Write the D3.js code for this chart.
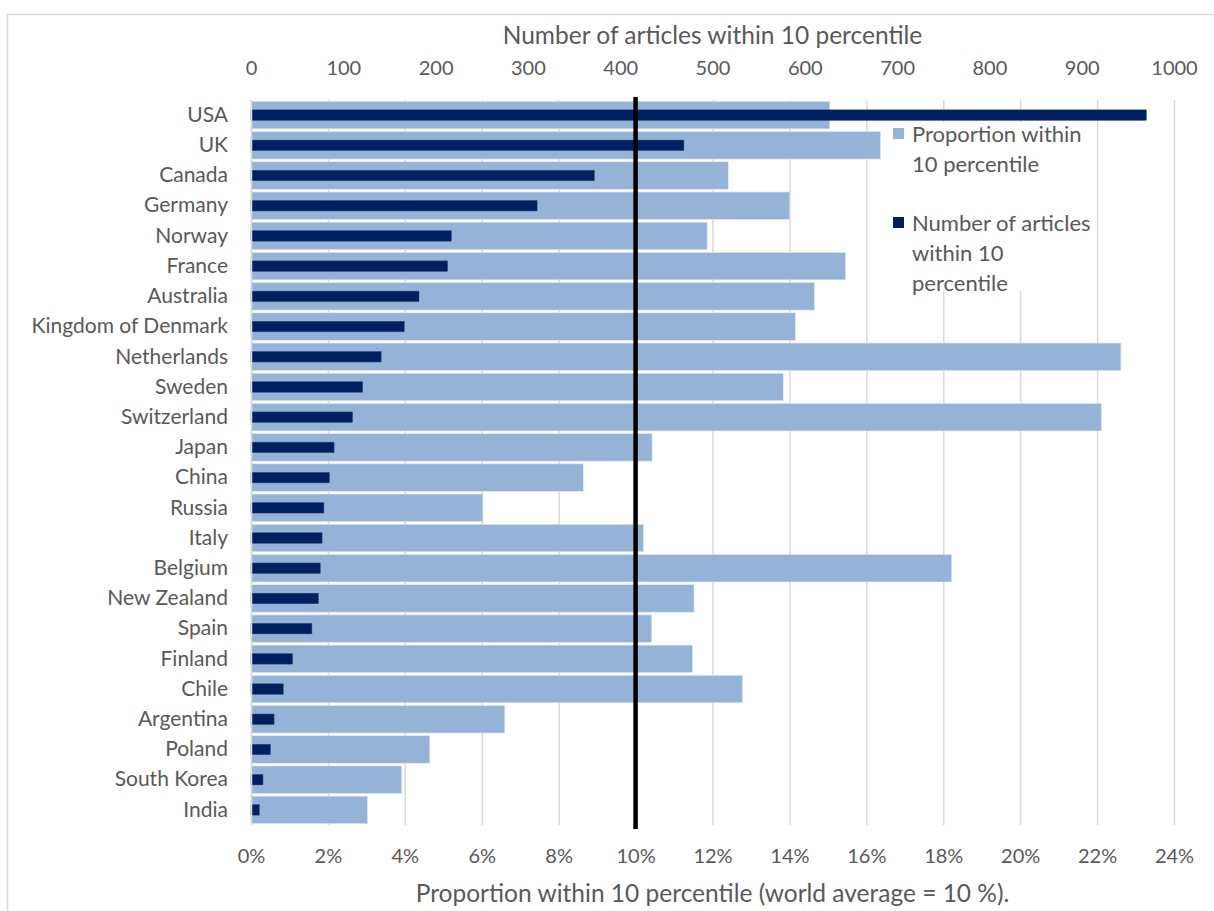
<!DOCTYPE html>
<html><head><meta charset="utf-8">
<script src="https://cdn.jsdelivr.net/npm/d3@7"></script>
<style>
body{margin:0;background:#fff;}
svg text{font-family:Lato, "Open Sans", sans-serif;fill:#595959;}
</style></head>
<body><svg id="c" width="1214" height="911"></svg>
<script>
const countries = ["USA","UK","Canada","Germany","Norway","France","Australia","Kingdom of Denmark","Netherlands","Sweden","Switzerland","Japan","China","Russia","Italy","Belgium","New Zealand","Spain","Finland","Chile","Argentina","Poland","South Korea","India"];
const proportion = [0.1505,0.1637,0.1241,0.1401,0.1186,0.1546,0.1465,0.1416,0.2262,0.1384,0.2211,0.1043,0.0864,0.0603,0.1021,0.1822,0.1152,0.1042,0.1148,0.1278,0.0660,0.0465,0.0392,0.0303];
const articles = [970,469,372,310,217,213,182,166,141,121,110,90,85,79,77,75,73,66,45,35,25,21,13,9];
const topTicks = [0,100,200,300,400,500,600,700,800,900,1000];
const bottomTicks = [0,0.02,0.04,0.06,0.08,0.10,0.12,0.14,0.16,0.18,0.20,0.22,0.24];
const worldAverage = 0.10;
const colors = {light:"#95B3D7", dark:"#002060", grid:"#D9D9D9", text:"#595959"};

const svg = d3.select("#c");
const L = 251, R = 1174, T = 100, B = 825;
const xP = d3.scaleLinear().domain([0,0.24]).range([L,R]);
const xN = d3.scaleLinear().domain([0,1000]).range([L,R]);
const y = d3.scaleBand().domain(countries).range([T,B]).paddingInner(0.09).paddingOuter(0.045);

// outer border
svg.append("rect").attr("x",7.5).attr("y",14.5).attr("width",1214).attr("height",910)
  .attr("fill","none").attr("stroke",colors.grid).attr("stroke-width",1.5);

// gridlines
const grid = svg.append("g").attr("transform",`translate(0,${B})`)
  .call(d3.axisBottom(xP).tickValues(bottomTicks).tickSize(-(B-T)).tickFormat(""));
grid.select(".domain").remove();
grid.selectAll("line").attr("stroke",colors.grid).attr("stroke-width",1.5);

// light bars
svg.append("g").selectAll("rect").data(countries).join("rect")
  .attr("x",L).attr("y",d=>y(d))
  .attr("width",(d,i)=>xP(proportion[i])-L).attr("height",y.bandwidth())
  .attr("fill",colors.light).attr("stroke","#dfe8f3").attr("stroke-width",0.6);

// dark bars
const dh = 10.5;
svg.append("g").selectAll("rect").data(countries).join("rect")
  .attr("x",L).attr("y",d=>y(d)+y.bandwidth()/2-dh/2)
  .attr("width",(d,i)=>xN(articles[i])-L).attr("height",dh)
  .attr("fill",colors.dark).attr("stroke","#2f4a80").attr("stroke-width",0.5);

// legend box
const lg = svg.append("g");
lg.append("rect").attr("x",885).attr("y",122).attr("width",210).attr("height",169).attr("fill","#fff");
const legendItems = [
  {lines:["Proportion within","10 percentile"], color:colors.light, y:134},
  {lines:["Number of articles","within 10","percentile"], color:colors.dark, y:223}
];
legendItems.forEach(it=>{
  lg.append("rect").attr("x",893).attr("y",it.y-6).attr("width",11).attr("height",11).attr("fill",it.color);
  it.lines.forEach((t,k)=>{
    lg.append("text").attr("x",912).attr("y",it.y+k*30).attr("dy","0.35em")
      .style("font-size","22px").text(t);
  });
});

// world average line
svg.append("line").attr("x1",xP(worldAverage)).attr("x2",xP(worldAverage))
  .attr("y1",97).attr("y2",829).attr("stroke","#000").attr("stroke-width",4.5);

// top axis
const ta = svg.append("g").attr("transform","translate(0,68)")
  .call(d3.axisTop(xN).tickValues(topTicks).tickSize(0).tickPadding(0).tickFormat(d3.format("d")));
ta.select(".domain").remove();
ta.selectAll("text").attr("dy","0.35em").style("font-size","20px").attr("fill",colors.text);

// bottom axis
const ba = svg.append("g").attr("transform","translate(0,856)")
  .call(d3.axisBottom(xP).tickValues(bottomTicks).tickSize(0).tickPadding(0).tickFormat(d3.format(".0%")));
ba.select(".domain").remove();
ba.selectAll("text").attr("dy","0.35em").style("font-size","20px").attr("fill",colors.text);

// left axis
const la = svg.append("g").attr("transform",`translate(${L},0)`)
  .call(d3.axisLeft(y).tickSize(0).tickPadding(23));
la.select(".domain").attr("stroke",colors.grid).attr("stroke-width",1.5);
la.selectAll("text").style("font-size","21px").attr("fill",colors.text);

// titles
svg.append("text").attr("x",(L+R)/2).attr("y",35).attr("dy","0.35em").attr("text-anchor","middle")
  .style("font-size","24.5px").text("Number of articles within 10 percentile");
svg.append("text").attr("x",(L+R)/2).attr("y",893).attr("dy","0.35em").attr("text-anchor","middle")
  .style("font-size","24.5px").text("Proportion within 10 percentile (world average = 10 %).");
</script></body></html>
